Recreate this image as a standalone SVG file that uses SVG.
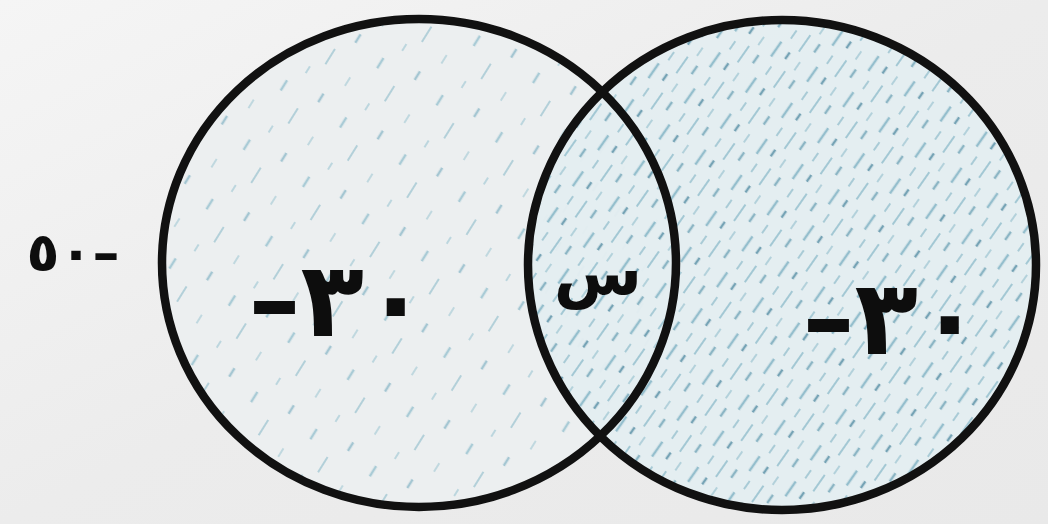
<svg xmlns="http://www.w3.org/2000/svg" width="1048" height="524" viewBox="0 0 1048 524">
  <defs>
    <linearGradient id="bg" x1="0" y1="0" x2="1" y2="1">
      <stop offset="0" stop-color="#f5f5f5"/>
      <stop offset="0.5" stop-color="#ececec"/>
      <stop offset="1" stop-color="#e9e9e9"/>
    </linearGradient>
    <pattern id="hatchL" width="70" height="70" patternUnits="userSpaceOnUse" patternTransform="rotate(-58)">
      <rect width="70" height="70" fill="#eceff0"/>
      <line x1="2" y1="6" x2="14" y2="6" stroke="#a9cbd6" stroke-width="2.5"/>
      <line x1="30" y1="18" x2="38" y2="18" stroke="#bcd6de" stroke-width="2"/>
      <line x1="48" y1="30" x2="66" y2="30" stroke="#b3d0d9" stroke-width="2"/>
      <line x1="12" y1="44" x2="22" y2="44" stroke="#a4c6d2" stroke-width="2.5"/>
      <line x1="40" y1="58" x2="50" y2="58" stroke="#c0d8df" stroke-width="2"/>
    </pattern>
    <pattern id="hatchR" width="44" height="44" patternUnits="userSpaceOnUse" patternTransform="rotate(-55)">
      <rect width="44" height="44" fill="#e4eef1"/>
      <line x1="0" y1="4" x2="18" y2="4" stroke="#8fbccb" stroke-width="2.5"/>
      <line x1="26" y1="10" x2="36" y2="10" stroke="#a5c9d5" stroke-width="2"/>
      <line x1="6" y1="17" x2="14" y2="17" stroke="#6f9fb2" stroke-width="2.5"/>
      <line x1="20" y1="24" x2="40" y2="24" stroke="#9fc6d3" stroke-width="2"/>
      <line x1="2" y1="31" x2="12" y2="31" stroke="#b0d0da" stroke-width="2"/>
      <line x1="28" y1="37" x2="38" y2="37" stroke="#86b2c2" stroke-width="2.5"/>
    </pattern>
    <style>
      .ring { fill: none; stroke: #111; stroke-width: 8.5; }
      .lbl { font-family: "DejaVu Sans", "Noto Sans", sans-serif; font-weight: bold; fill: #0d0d0d; direction: ltr; unicode-bidi: bidi-override; text-anchor: middle; }
    </style>
  </defs>
  <rect width="1048" height="524" fill="url(#bg)"/>

  <g id="setA">
    <ellipse cx="419" cy="263" rx="257" ry="244" fill="url(#hatchL)"/>
  </g>
  <g id="setB">
    <ellipse cx="782" cy="265" rx="254" ry="245" fill="url(#hatchR)" fill-opacity="0.95"/>
  </g>
  <g id="outlines">
    <ellipse class="ring" cx="419" cy="263" rx="257" ry="244"/>
    <ellipse class="ring" cx="782" cy="265" rx="254" ry="245"/>
  </g>

  <g id="universe-label">
    <text class="lbl" x="73" y="271" font-size="54">٥٠–</text>
  </g>
  <g id="a-only">
    <text class="lbl" x="338" y="336" font-size="104" letter-spacing="6">–٣٠</text>
  </g>
  <g id="intersection">
    <text class="lbl" x="598" y="295" font-size="64">س</text>
  </g>
  <g id="b-only">
    <text class="lbl" x="892" y="354" font-size="104" letter-spacing="6">–٣٠</text>
  </g>
</svg>
